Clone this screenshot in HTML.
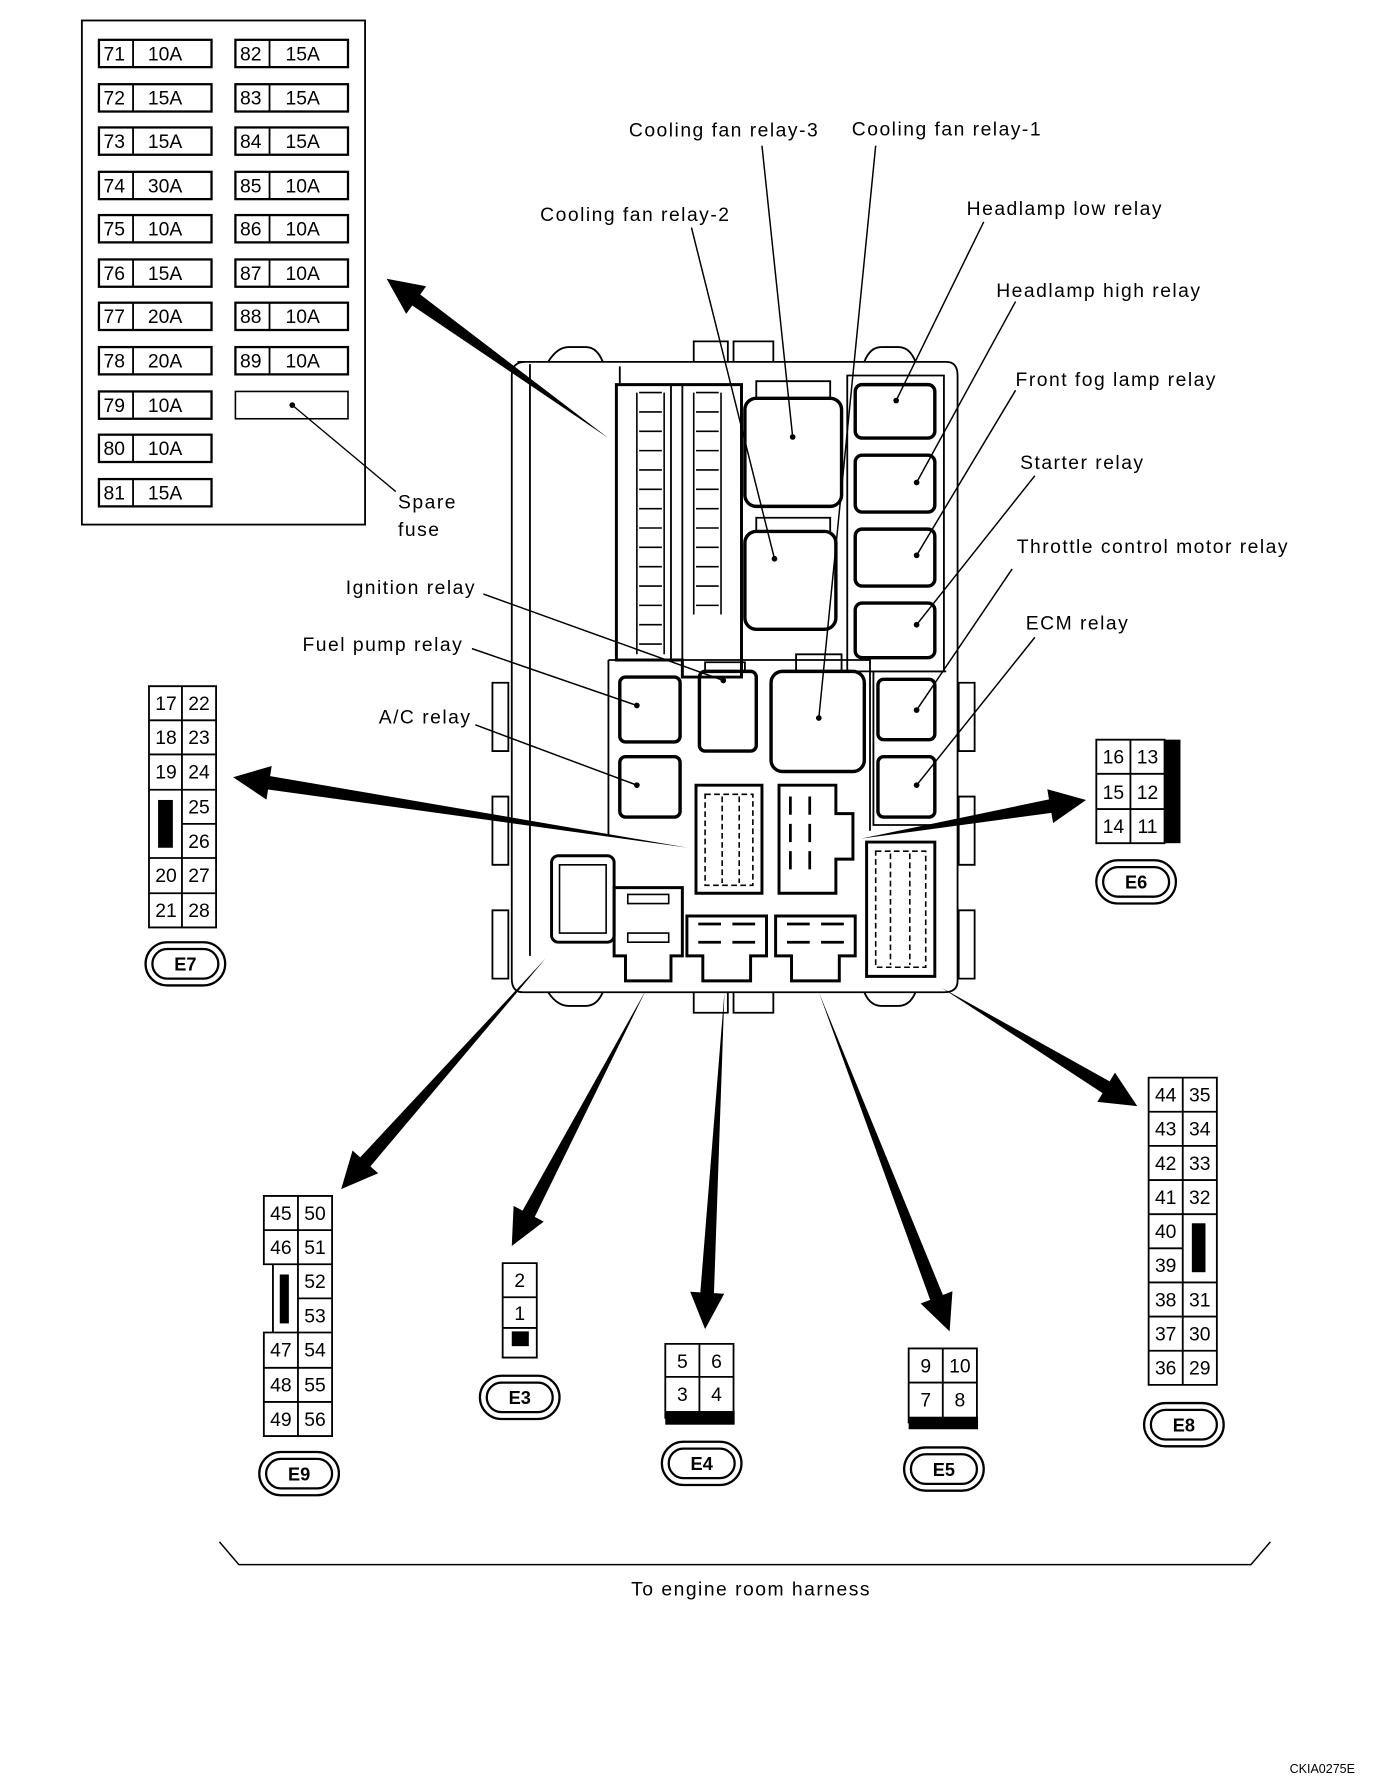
<!DOCTYPE html>
<html><head><meta charset="utf-8"><style>
html,body{margin:0;padding:0;background:#fff}
svg{display:block}
text{font-family:"Liberation Sans",sans-serif;font-size:17px;fill:#000}
.l{letter-spacing:1.3px}
.c{text-anchor:middle}
</style></head><body>
<svg width="1392" height="1782" viewBox="0 0 1224 1566" preserveAspectRatio="none" xmlns="http://www.w3.org/2000/svg">
<g fill="none" stroke="#000" stroke-width="1.6">
<rect x="72" y="18" width="249" height="443"/>
<g stroke-width="2">
<rect x="87" y="35" width="99" height="24"/><rect x="87" y="74" width="99" height="24"/><rect x="87" y="112" width="99" height="24"/><rect x="87" y="151" width="99" height="24"/><rect x="87" y="189" width="99" height="24"/><rect x="87" y="228" width="99" height="24"/><rect x="87" y="266" width="99" height="24"/><rect x="87" y="305" width="99" height="24"/><rect x="87" y="344" width="99" height="24"/><rect x="87" y="382" width="99" height="24"/><rect x="87" y="421" width="99" height="24"/>
<rect x="207" y="35" width="99" height="24"/><rect x="207" y="74" width="99" height="24"/><rect x="207" y="112" width="99" height="24"/><rect x="207" y="151" width="99" height="24"/><rect x="207" y="189" width="99" height="24"/><rect x="207" y="228" width="99" height="24"/><rect x="207" y="266" width="99" height="24"/><rect x="207" y="305" width="99" height="24"/><rect x="207" y="344" width="99" height="24" stroke-width="1.4"/>
</g>
<path d="M117 35v24M117 74v24M117 112v24M117 151v24M117 189v24M117 228v24M117 266v24M117 305v24M117 344v24M117 382v24M117 421v24M237 35v24M237 74v24M237 112v24M237 151v24M237 189v24M237 228v24M237 266v24M237 305v24"/>
<path d="M257 356L348 432" stroke-width="1.2"/>

<path d="M455 318 H832 Q842 318 842 330 V862 Q842 872 830 872 H460 Q450 872 450 860 V330 Q450 318 462 318Z"/>
<path d="M466 320 V840 M545 322V338"/>
<path d="M482 318 Q490 305 500 305 H515 Q525 305 530 318 M610 318 V300 H640 V318 M645 318 V300 H680 V318 M760 318 Q765 305 775 305 H790 Q800 305 805 318"/>
<path d="M610 872 V890 H640 V872 M645 872 V890 H680 V872 M482 872 Q490 884 500 884 H515 Q525 884 530 872 M760 872 Q765 884 775 884 H790 Q800 884 805 872"/>
<path d="M433 600h14v60h-14z M433 700h14v60h-14z M433 800h14v60h-14z M843 600h14v60h-14z M843 700h14v60h-14z M843 800h14v60h-14z"/>
<path d="M542 580 V338 H652 V595 H600 V580 Z" stroke-width="2.6"/>
<path d="M590 338 V580 M600 338 V580" />
<g stroke-width="1.4">
<path d="M562 345 h20 M562 362 h20 M562 379 h20 M562 396 h20 M562 413 h20 M562 430 h20 M562 447 h20 M562 464 h20 M562 481 h20 M562 498 h20 M562 515 h20 M562 532 h20 M562 549 h20 M562 566 h20"/>
<path d="M612 345 h20 M612 362 h20 M612 379 h20 M612 396 h20 M612 413 h20 M612 430 h20 M612 447 h20 M612 464 h20 M612 481 h20 M612 498 h20 M612 515 h20 M612 532 h20"/>
<path d="M560 345 V575 M584 345 V575 M610 345 V540 M634 345 V540"/>
</g>
<path d="M535 580 H765 V730 M535 580 V735"/>
<path d="M745 330 H830 V590 H745Z"/>
<path d="M765 590 H832 M768 590 V725 H830"/>
<g stroke-width="3">
<rect x="655" y="350" width="85" height="95" rx="10"/>
<rect x="655" y="467" width="80" height="86" rx="10"/>
<rect x="752" y="338" width="70" height="47" rx="6"/>
<rect x="752" y="400" width="70" height="50" rx="6"/>
<rect x="752" y="465" width="70" height="50" rx="6"/>
<rect x="752" y="530" width="70" height="48" rx="6"/>
<rect x="678" y="590" width="82" height="88" rx="10"/>
<rect x="615" y="590" width="50" height="70" rx="5"/>
<rect x="545" y="595" width="53" height="57" rx="5"/>
<rect x="545" y="665" width="53" height="53" rx="5"/>
<rect x="772" y="597" width="50" height="53" rx="5"/>
<rect x="772" y="665" width="50" height="53" rx="5"/>
</g>
<path d="M665 350 V335 H730 V350 M665 467 V455 H730 V467 M700 590 V575 H740 V590 M620 590 V582 H655 V590"/>
<g stroke-width="2.6">
<path d="M612 690 H670 V785 H612Z"/>
<path d="M685 690 H735 V715 H750 V755 H735 V785 H685Z"/>
<path d="M762 740 H822 V858 H762Z"/>
<rect x="485" y="752" width="55" height="76" rx="6"/>
<path d="M540 780 H600 V840 H590 V862 H550 V840 H540Z"/>
<path d="M604 805 H674 V840 H660 V862 H618 V840 H604Z"/>
<path d="M682 805 H752 V840 H738 V862 H696 V840 H682Z"/>
</g>
<g stroke-width="1.4">
<path d="M620 698 H662 V778 H620Z M635 700 V776 M650 700 V776" stroke-dasharray="5 3"/>
<path d="M695 700 v16 M712 700 v16 M695 724 v16 M712 724 v16 M695 748 v16 M712 748 v16" stroke-width="2.4"/>
<path d="M770 748 H814 V850 H770Z M783 750 V848 M800 750 V848" stroke-dasharray="5 3"/>
<path d="M492 760 H533 V820 H492Z"/>
<path d="M552 786 h36 v8 h-36z M552 820 h36 v8 h-36z"/>
<path d="M614 812 h20 M644 812 h20 M614 828 h20 M644 828 h20 M692 812 h20 M722 812 h20 M692 828 h20 M722 828 h20" stroke-width="2.4"/>
</g>
<g stroke-width="1.3">
<path d="M670 128 L697 384 M770 128 L720 631 M608 200 L681 491 M865 195 L788 352 M893 265 L806 424 M893 343 L806 488 M910 418 L806 549 M890 500 L806 624 M910 560 L806 690 M425 522 L636 598 M415 570 L560 620 M418 637 L560 690"/>
</g>
<g stroke-width="1.6">
<path d="M131 603 H190 V815 H131Z M160 603 V815 M131 633 H190 M131 663 H190 M131 694 H190 M160 724 H190 M131 754 H190 M131 785 H190"/>
<path d="M964 650 H1024 V741 H964Z M994 650 V741 M964 680 H1024 M964 711 H1024"/>
<path d="M232 1051 H292 V1262 H232 V1171 H240 V1111 H232Z M262 1051 V1262 M232 1081 H292 M232 1111 H292 M262 1141 H292 M232 1171 H292 M232 1202 H292 M232 1232 H292"/>
<path d="M442 1110 H472 V1193 H442Z M442 1140 H472 M442 1167 H472"/>
<path d="M585 1181 H645 V1246 H585Z M615 1181 V1246 M585 1210 H645"/>
<path d="M799 1185 H859 V1250 H799Z M829 1185 V1250 M799 1215 H859"/>
<path d="M1010 947 H1070 V1217 H1010Z M1040 947 V1217 M1010 977 H1070 M1010 1007 H1070 M1010 1037 H1070 M1010 1067 H1070 M1010 1097 H1040 M1010 1127 H1070 M1010 1157 H1070 M1010 1187 H1070"/>
</g>
<g stroke-width="2">
<rect x="128" y="828" width="70" height="38" rx="19"/><rect x="134" y="834" width="58" height="26" rx="13"/>
<rect x="964" y="756" width="70" height="38" rx="19"/><rect x="970" y="762" width="58" height="26" rx="13"/>
<rect x="228" y="1276" width="70" height="38" rx="19"/><rect x="234" y="1282" width="58" height="26" rx="13"/>
<rect x="422" y="1209" width="70" height="38" rx="19"/><rect x="428" y="1215" width="58" height="26" rx="13"/>
<rect x="582" y="1267" width="70" height="38" rx="19"/><rect x="588" y="1273" width="58" height="26" rx="13"/>
<rect x="795" y="1272" width="70" height="38" rx="19"/><rect x="801" y="1278" width="58" height="26" rx="13"/>
<rect x="1006" y="1233" width="70" height="38" rx="19"/><rect x="1012" y="1239" width="58" height="26" rx="13"/>
</g>
<path d="M193 1355 L210 1375 H1100 L1117 1355" stroke-width="1.3"/>
</g>
<g fill="#000">
<circle cx="697" cy="384" r="2.5"/><circle cx="720" cy="631" r="2.5"/><circle cx="681" cy="491" r="2.5"/><circle cx="788" cy="352" r="2.5"/><circle cx="806" cy="424" r="2.5"/><circle cx="806" cy="488" r="2.5"/><circle cx="806" cy="549" r="2.5"/><circle cx="806" cy="624" r="2.5"/><circle cx="806" cy="690" r="2.5"/><circle cx="636" cy="598" r="2.5"/><circle cx="560" cy="620" r="2.5"/><circle cx="560" cy="690" r="2.5"/><circle cx="257" cy="356" r="2.5"/>
<rect x="139" y="703" width="13" height="42"/>
<rect x="1024" y="650" width="14" height="91"/>
<rect x="246" y="1120" width="8" height="43"/>
<rect x="450" y="1170" width="15" height="13"/>
<rect x="585" y="1240" width="61" height="12"/>
<rect x="799" y="1245" width="61" height="11"/>
<rect x="1048" y="1075" width="12" height="43"/>
<path id="arrows" d=""/>
</g>
<g>
<text x="91" y="53">71</text><text x="130" y="53">10A</text>
<text x="91" y="92">72</text><text x="130" y="92">15A</text>
<text x="91" y="130">73</text><text x="130" y="130">15A</text>
<text x="91" y="169">74</text><text x="130" y="169">30A</text>
<text x="91" y="207">75</text><text x="130" y="207">10A</text>
<text x="91" y="246">76</text><text x="130" y="246">15A</text>
<text x="91" y="284">77</text><text x="130" y="284">20A</text>
<text x="91" y="323">78</text><text x="130" y="323">20A</text>
<text x="91" y="362">79</text><text x="130" y="362">10A</text>
<text x="91" y="400">80</text><text x="130" y="400">10A</text>
<text x="91" y="439">81</text><text x="130" y="439">15A</text>
<text x="211" y="53">82</text><text x="251" y="53">15A</text>
<text x="211" y="92">83</text><text x="251" y="92">15A</text>
<text x="211" y="130">84</text><text x="251" y="130">15A</text>
<text x="211" y="169">85</text><text x="251" y="169">10A</text>
<text x="211" y="207">86</text><text x="251" y="207">10A</text>
<text x="211" y="246">87</text><text x="251" y="246">10A</text>
<text x="211" y="284">88</text><text x="251" y="284">10A</text>
<text x="211" y="323">89</text><text x="251" y="323">10A</text>
<text class="l" x="350" y="447">Spare</text><text class="l" x="350" y="471">fuse</text>
<text class="l" x="553" y="120">Cooling fan relay-3</text>
<text class="l" x="749" y="119">Cooling fan relay-1</text>
<text class="l" x="475" y="194">Cooling fan relay-2</text>
<text class="l" x="850" y="189">Headlamp low relay</text>
<text class="l" x="876" y="261">Headlamp high relay</text>
<text class="l" x="893" y="339">Front fog lamp relay</text>
<text class="l" x="897" y="412">Starter relay</text>
<text class="l" x="894" y="486">Throttle control motor relay</text>
<text class="l" x="902" y="553">ECM relay</text>
<text class="l" x="304" y="522">Ignition relay</text>
<text class="l" x="266" y="572">Fuel pump relay</text>
<text class="l" x="333" y="636">A/C relay</text>
<text class="l" x="555" y="1402">To engine room harness</text>
<text x="1134" y="1558" style="font-size:11px">CKIA0275E</text>
</g>
<g>
<text class="c" x="146" y="624">17</text><text class="c" x="175" y="624">22</text>
<text class="c" x="146" y="654">18</text><text class="c" x="175" y="654">23</text>
<text class="c" x="146" y="684">19</text><text class="c" x="175" y="684">24</text>
<text class="c" x="175" y="715">25</text><text class="c" x="175" y="745">26</text>
<text class="c" x="146" y="775">20</text><text class="c" x="175" y="775">27</text>
<text class="c" x="146" y="806">21</text><text class="c" x="175" y="806">28</text>
<text class="c" x="979" y="671">16</text><text class="c" x="1009" y="671">13</text>
<text class="c" x="979" y="702">15</text><text class="c" x="1009" y="702">12</text>
<text class="c" x="979" y="732">14</text><text class="c" x="1009" y="732">11</text>
<text class="c" x="247" y="1072">45</text><text class="c" x="277" y="1072">50</text>
<text class="c" x="247" y="1102">46</text><text class="c" x="277" y="1102">51</text>
<text class="c" x="277" y="1132">52</text><text class="c" x="277" y="1162">53</text>
<text class="c" x="247" y="1192">47</text><text class="c" x="277" y="1192">54</text>
<text class="c" x="247" y="1223">48</text><text class="c" x="277" y="1223">55</text>
<text class="c" x="247" y="1253">49</text><text class="c" x="277" y="1253">56</text>
<text class="c" x="457" y="1131">2</text><text class="c" x="457" y="1160">1</text>
<text class="c" x="600" y="1202">5</text><text class="c" x="630" y="1202">6</text>
<text class="c" x="600" y="1231">3</text><text class="c" x="630" y="1231">4</text>
<text class="c" x="814" y="1206">9</text><text class="c" x="844" y="1206">10</text>
<text class="c" x="814" y="1236">7</text><text class="c" x="844" y="1236">8</text>
<text class="c" x="1025" y="968">44</text><text class="c" x="1055" y="968">35</text>
<text class="c" x="1025" y="998">43</text><text class="c" x="1055" y="998">34</text>
<text class="c" x="1025" y="1028">42</text><text class="c" x="1055" y="1028">33</text>
<text class="c" x="1025" y="1058">41</text><text class="c" x="1055" y="1058">32</text>
<text class="c" x="1025" y="1088">40</text>
<text class="c" x="1025" y="1118">39</text>
<text class="c" x="1025" y="1148">38</text><text class="c" x="1055" y="1148">31</text>
<text class="c" x="1025" y="1178">37</text><text class="c" x="1055" y="1178">30</text>
<text class="c" x="1025" y="1208">36</text><text class="c" x="1055" y="1208">29</text>
<text class="c" x="163" y="853" style="font-weight:bold;font-size:16px">E7</text>
<text class="c" x="999" y="781" style="font-weight:bold;font-size:16px">E6</text>
<text class="c" x="263" y="1301" style="font-weight:bold;font-size:16px">E9</text>
<text class="c" x="457" y="1234" style="font-weight:bold;font-size:16px">E3</text>
<text class="c" x="617" y="1292" style="font-weight:bold;font-size:16px">E4</text>
<text class="c" x="830" y="1297" style="font-weight:bold;font-size:16px">E5</text>
<text class="c" x="1041" y="1258" style="font-weight:bold;font-size:16px">E8</text>
</g>
</svg>
<script>
(function(){
var A=[[535,385,340,245],[605,745,205,683],[757,737,955,703],[480,842,300,1045],[568,870,450,1095],[637,872,620,1168],[720,872,835,1170],[828,868,1000,972]];
var d="";
A.forEach(function(a){
var x0=a[0],y0=a[1],x1=a[2],y1=a[3];
var dx=x1-x0,dy=y1-y0,L=Math.sqrt(dx*dx+dy*dy),ux=dx/L,uy=dy/L,nx=-uy,ny=ux;
var hl=32,hw=15,sw=6;
var bx=x1-ux*hl,by=y1-uy*hl;
function p(x,y){return x.toFixed(1)+" "+y.toFixed(1)+" ";}
d+="M"+p(x0,y0)+"L"+p(bx+nx*sw,by+ny*sw)+"L"+p(bx+nx*hw,by+ny*hw)+"L"+p(x1,y1)+"L"+p(bx-nx*hw,by-ny*hw)+"L"+p(bx-nx*sw,by-ny*sw)+"Z ";
});
document.getElementById("arrows").setAttribute("d",d);
})();
</script>
</body></html>
